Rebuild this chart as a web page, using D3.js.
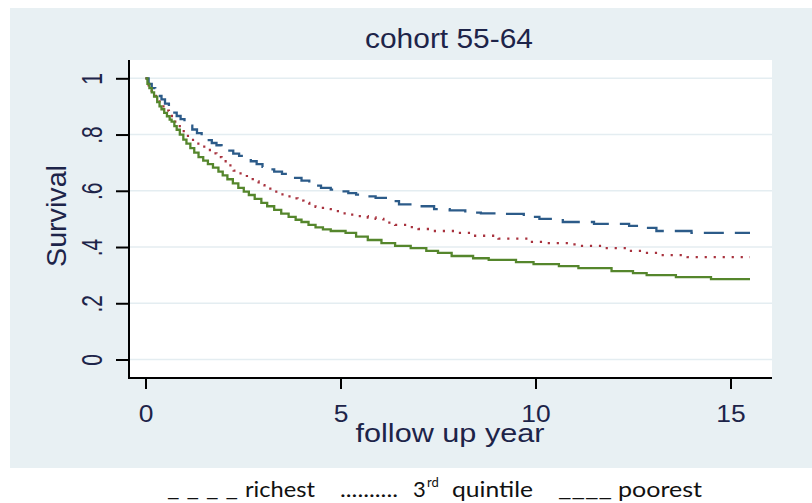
<!DOCTYPE html>
<html><head><meta charset="utf-8">
<script src="https://cdn.jsdelivr.net/npm/d3@7/dist/d3.min.js"></script>
<style>html,body{margin:0;padding:0;background:#fff;}svg{display:block;}</style>
</head><body>
<svg id="chart" width="812" height="503"></svg>
<script>
// ---- data ----
const title = "cohort 55-64";
const xLabel = "follow up year";
const yLabel = "Survival";
const xTicks = [0, 5, 10, 15];
const yTicks = [0, 0.2, 0.4, 0.6, 0.8, 1];
const yTickLabels = ["0", ".2", ".4", ".6", ".8", "1"];
const seriesNames = ["richest", "3rd quintile", "poorest"];

const richestT = [0,0.08,0.16,0.25,0.33,0.41,0.5,0.6,0.7,0.8,0.9,1.0,1.1,1.2,1.32,1.44,1.57,1.7,1.82,1.95,2.1,2.25,2.4,2.55,2.7,2.85,3.0,3.15,3.3,3.5,3.65,3.8,4.0,4.2,4.35,4.5,4.75,5.0,5.2,5.4,5.65,5.9,6.2,6.5,6.9,7.4,7.8,8.2,8.6,9.0,9.7,10.1,10.7,11.5,12.4,12.6,13.1,14.0,15.5];
const richestS = [1,0.98,0.965,0.95,0.937,0.925,0.91,0.893,0.878,0.866,0.855,0.843,0.832,0.818,0.805,0.792,0.78,0.77,0.762,0.754,0.743,0.732,0.724,0.715,0.705,0.695,0.685,0.676,0.668,0.66,0.653,0.646,0.636,0.626,0.618,0.61,0.604,0.598,0.592,0.586,0.58,0.575,0.563,0.552,0.545,0.535,0.53,0.522,0.52,0.518,0.507,0.50,0.489,0.482,0.475,0.468,0.457,0.45,0.45];

const middleT = [0,0.08,0.16,0.25,0.33,0.41,0.5,0.6,0.72,0.82,0.94,1.05,1.17,1.28,1.4,1.54,1.68,1.82,1.95,2.1,2.26,2.4,2.6,2.75,2.9,3.05,3.2,3.4,3.57,3.74,3.9,4.05,4.2,4.36,4.55,4.75,5.0,5.25,5.45,5.7,5.9,6.1,6.4,6.7,7.0,7.3,8.0,8.4,9.05,9.8,10.3,11.0,11.7,12.4,12.8,13.2,13.9,15.5];
const middleS = [1,0.975,0.955,0.937,0.918,0.9,0.885,0.866,0.846,0.83,0.812,0.795,0.781,0.768,0.757,0.745,0.733,0.72,0.705,0.69,0.672,0.662,0.648,0.633,0.62,0.608,0.597,0.587,0.58,0.573,0.565,0.557,0.55,0.543,0.535,0.528,0.52,0.515,0.51,0.505,0.5,0.487,0.479,0.471,0.464,0.457,0.45,0.44,0.43,0.418,0.414,0.404,0.396,0.386,0.379,0.371,0.364,0.364];

const poorestT = [0,0.05,0.1,0.16,0.22,0.3,0.36,0.41,0.48,0.55,0.62,0.67,0.74,0.8,0.88,0.97,1.05,1.15,1.25,1.36,1.48,1.6,1.73,1.87,1.98,2.1,2.24,2.38,2.52,2.65,2.8,2.97,3.12,3.3,3.48,3.67,3.85,4.0,4.18,4.36,4.55,4.75,5.13,5.4,5.7,6.05,6.4,6.8,7.2,7.5,7.85,8.4,8.8,9.5,9.95,10.6,11.1,11.95,12.5,12.85,13.6,14.5,15.5];
const poorestS = [1,0.98,0.965,0.95,0.935,0.915,0.9,0.89,0.877,0.865,0.853,0.846,0.83,0.817,0.8,0.782,0.768,0.752,0.736,0.72,0.707,0.695,0.682,0.668,0.655,0.641,0.626,0.61,0.597,0.585,0.571,0.557,0.545,0.532,0.519,0.507,0.497,0.489,0.479,0.47,0.463,0.457,0.45,0.437,0.425,0.414,0.404,0.396,0.386,0.379,0.368,0.36,0.354,0.346,0.339,0.332,0.325,0.314,0.307,0.3,0.293,0.286,0.286];

// ---- layout ----
const svg = d3.select("#chart");
const panel = {x0: 10, y0: 8, x1: 812, y1: 468};
const plot = {left: 129, right: 772, top: 60, bottom: 378};
const txtCol = "#1d2449";
const sansFont = "'Liberation Sans', Arial, sans-serif";

svg.append("rect").attr("x", panel.x0).attr("y", panel.y0)
  .attr("width", panel.x1 - panel.x0).attr("height", panel.y1 - panel.y0)
  .attr("fill", "#e8f0f3");
svg.append("rect").attr("x", plot.left).attr("y", plot.top)
  .attr("width", plot.right - plot.left).attr("height", plot.bottom - plot.top)
  .attr("fill", "#ffffff");

const x = d3.scaleLinear().domain([0, 15]).range([145.5, 730.5]);
const y = d3.scaleLinear().domain([0, 1]).range([359.5, 78.3]);

// gridlines
svg.append("g").selectAll("line").data(yTicks).join("line")
  .attr("x1", plot.left).attr("x2", plot.right)
  .attr("y1", d => y(d)).attr("y2", d => y(d))
  .attr("stroke", "#e4edf1").attr("stroke-width", 1.6);

// y axis
const yAxis = svg.append("g").attr("transform", `translate(${plot.left},0)`)
  .call(d3.axisLeft(y).tickValues(yTicks).tickSize(13).tickPadding(0).tickFormat((d, i) => yTickLabels[i]));
yAxis.select(".domain").attr("d", `M0,${plot.top}V${plot.bottom}`).attr("stroke", "#000").attr("stroke-width", 2);
yAxis.selectAll(".tick line").attr("stroke", "#000").attr("stroke-width", 2);
yAxis.selectAll(".tick text")
  .attr("x", null).attr("dy", null)
  .attr("transform", "translate(-27,0) rotate(-90)")
  .attr("text-anchor", "middle")
  .attr("fill", txtCol).attr("font-family", sansFont).attr("font-size", 30)
  .each(function() { const l = this.getComputedTextLength(); this.setAttribute("textLength", l * 0.7); this.setAttribute("lengthAdjust", "spacingAndGlyphs"); });

// x axis
const xAxis = svg.append("g").attr("transform", `translate(0,${plot.bottom})`)
  .call(d3.axisBottom(x).tickValues(xTicks).tickSize(11).tickPadding(0).tickFormat(d3.format("d")));
xAxis.select(".domain").attr("d", `M${plot.left - 1},0H${plot.right}`).attr("stroke", "#000").attr("stroke-width", 2);
xAxis.selectAll(".tick line").attr("stroke", "#000").attr("stroke-width", 2);
xAxis.selectAll(".tick text")
  .attr("y", 44).attr("dy", null)
  .attr("fill", txtCol).attr("font-family", sansFont).attr("font-size", 24)
  .each(function() { const l = this.getComputedTextLength(); this.setAttribute("textLength", l * 1.1); this.setAttribute("lengthAdjust", "spacingAndGlyphs"); });

// title and axis titles
function fitText(sel, len) { sel.attr("textLength", len).attr("lengthAdjust", "spacingAndGlyphs"); return sel; }
fitText(svg.append("text").attr("x", 449).attr("y", 48).attr("text-anchor", "middle")
  .attr("fill", txtCol).attr("font-family", sansFont).attr("font-size", 27).text(title), 168);
fitText(svg.append("text").attr("x", 450).attr("y", 442).attr("text-anchor", "middle")
  .attr("fill", txtCol).attr("font-family", sansFont).attr("font-size", 25).text(xLabel), 189);
fitText(svg.append("text").attr("transform", "translate(66,216) rotate(-90)").attr("text-anchor", "middle")
  .attr("fill", txtCol).attr("font-family", sansFont).attr("font-size", 28).text(yLabel), 102);

// curves
const line = d3.line().x(d => x(d[0])).y(d => y(d[1])).curve(d3.curveStepAfter);
const series = [
  {t: richestT, s: richestS, color: "#2c5b89", dash: "20,11"},
  {t: middleT, s: middleS, color: "#a8323e", dash: "2.2,6.8"},
  {t: poorestT, s: poorestS, color: "#55862c", dash: null}
];
const g = svg.append("g");
series.forEach(sr => {
  g.append("path").datum(d3.zip(sr.t, sr.s))
    .attr("d", line).attr("fill", "none")
    .attr("stroke", sr.color).attr("stroke-width", 2.3)
    .attr("stroke-dasharray", sr.dash);
});

// legend (text-only, as in the reference)
const legFont = "Lato, 'Open Sans', sans-serif";
const leg = svg.append("g").attr("fill", "#111").attr("font-family", legFont).attr("font-size", 22);
fitText(leg.append("text").attr("x", 167).attr("y", 496).text("_ _ _ _"), 71);
fitText(leg.append("text").attr("x", 245).attr("y", 497).text(seriesNames[0]), 70);
fitText(leg.append("text").attr("x", 340).attr("y", 497).text(".........."), 58);
leg.append("text").attr("x", 413).attr("y", 497).text("3");
leg.append("text").attr("x", 427).attr("y", 487).attr("font-size", 13).text("rd");
fitText(leg.append("text").attr("x", 452).attr("y", 497).text(seriesNames[1].replace("3rd ", "")), 81);
fitText(leg.append("text").attr("x", 558).attr("y", 496).text("____"), 54);
fitText(leg.append("text").attr("x", 618).attr("y", 497).text(seriesNames[2]), 84);
</script>
</body></html>
